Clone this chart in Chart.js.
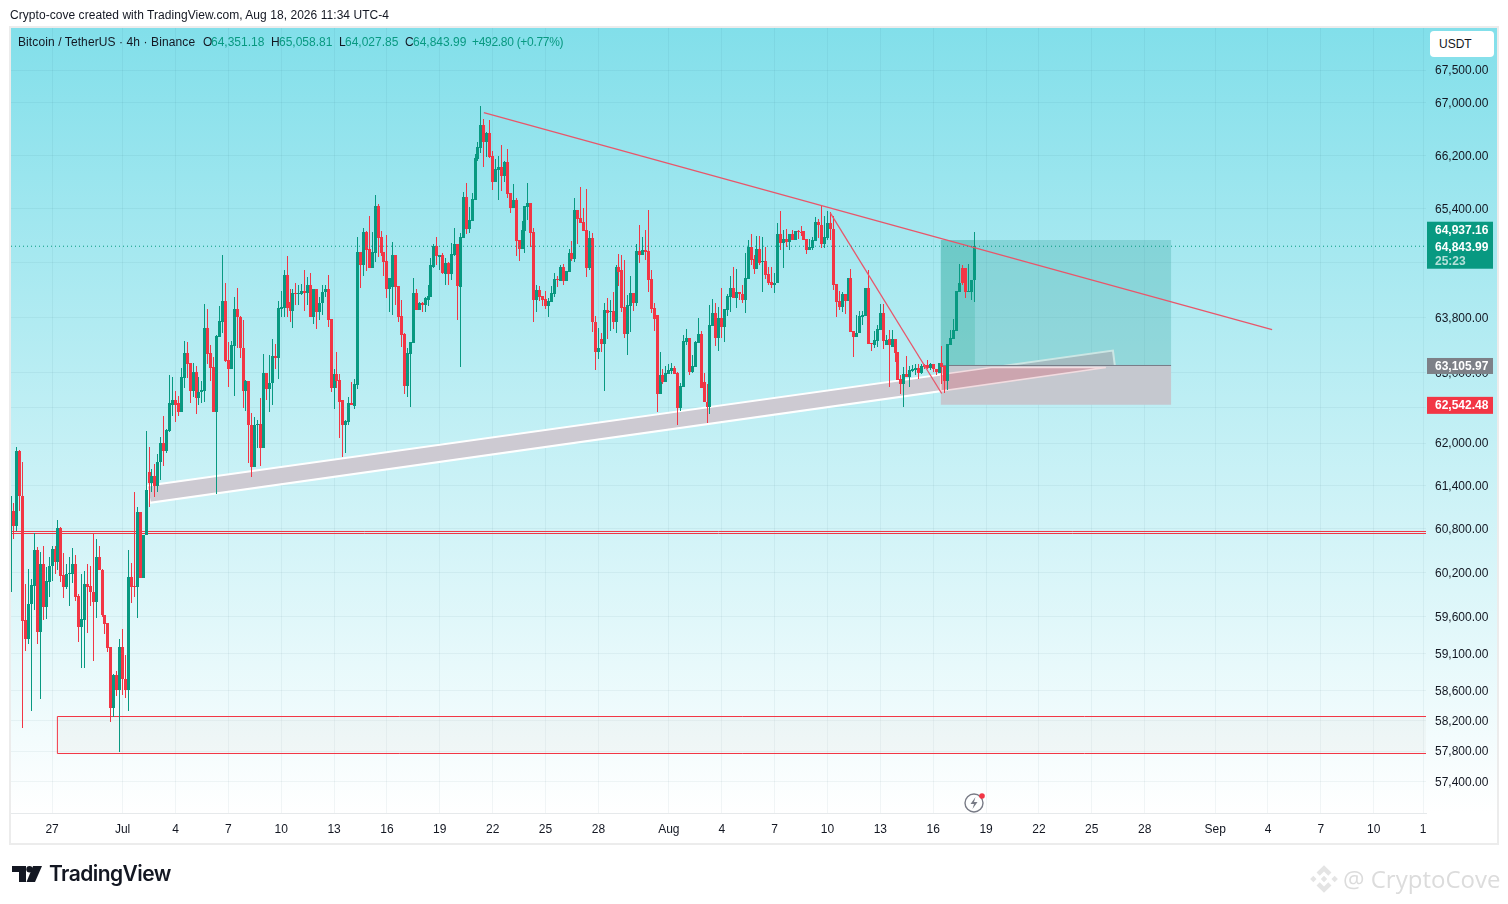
<!DOCTYPE html>
<html>
<head>
<meta charset="utf-8">
<title>BTCUSDT 4h</title>
<script src="https://cdn.jsdelivr.net/npm/chart.js@4"></script>
<style>
    html, body { margin: 0; padding: 0; background: #fff; }
    #page { position: relative; width: 1508px; height: 904px; overflow: hidden; font-family: "Liberation Sans", sans-serif; font-size: 12px; color: #131722; }
    #frame { position: absolute; left: 9px; top: 26px; width: 1486px; height: 815px; border: 2px solid #ececec; }
    #pane { position: absolute; left: 11px; top: 28px; width: 1486px; height: 785px; background: linear-gradient(180deg, #82dfea 0%, #ffffff 100%); }
    canvas { position: absolute; left: 0; top: 0; }
    .txt { position: absolute; white-space: nowrap; line-height: 14px; }
    .up { color: #089981; }
    #unit { position: absolute; left: 1430px; top: 31px; width: 55px; height: 26px; padding-left: 9px; line-height: 27px; background: #fff; border-radius: 4px; }
    #brand { position: absolute; left: 49px; top: 860px; font: 600 21px/28px Inter, sans-serif; color: #131722; letter-spacing: -0.55px; }
    #mark { position: absolute; left: 1343px; top: 862px; font: 24px/34px "Open Sans", sans-serif; color: #dcdcdc; white-space: nowrap; }
    svg { position: absolute; }
</style>
</head>
<body>
<div id="page">
    <div id="frame"></div>
    <div id="pane"></div>
    <canvas id="chart" width="1508" height="904"></canvas>

    <div class="txt" style="left:10px;top:8px;letter-spacing:0.05px">Crypto-cove created with TradingView.com, Aug 18, 2026 11:34 UTC-4</div>
    <div class="txt" style="left:18px;top:35px;letter-spacing:0.1px">Bitcoin / TetherUS · 4h · Binance</div>
    <div class="txt" style="left:203px;top:35px">O</div><div class="txt up" style="left:211px;top:35px">64,351.18</div>
    <div class="txt" style="left:271px;top:35px">H</div><div class="txt up" style="left:279px;top:35px">65,058.81</div>
    <div class="txt" style="left:339px;top:35px">L</div><div class="txt up" style="left:345px;top:35px">64,027.85</div>
    <div class="txt" style="left:405px;top:35px">C</div><div class="txt up" style="left:413px;top:35px">64,843.99</div>
    <div class="txt up" style="left:472px;top:35px;letter-spacing:-0.3px">+492.80 (+0.77%)</div>
    <div id="unit">USDT</div>

    <svg style="left:964px;top:792px" width="24" height="22" viewBox="0 0 24 22">
        <circle cx="10" cy="11" r="9" fill="none" stroke="#787b86" stroke-width="1.4"/>
        <path d="M11.5 5 L6.5 12 H10 L8.5 17 L13.5 10 H10 Z" fill="#787b86"/>
        <circle cx="18" cy="4" r="2.8" fill="#f23645"/>
    </svg>

    <svg style="left:12px;top:866px" width="32" height="16" viewBox="0 0 32 16">
        <path d="M0 0 H14 V16 H7 V6 H0 Z" fill="#131722"/>
        <circle cx="17.5" cy="3.2" r="3.2" fill="#131722"/>
        <path d="M21 0 H30 L23 16 H14.5 Z" fill="#131722"/>
    </svg>
    <div id="brand">TradingView</div>

    <svg style="left:1308px;top:863px" width="32" height="32" viewBox="0 0 30 30">
        <path d="M15 2 L22 9 L19 12 L15 8 L11 12 L8 9 Z M5 12 L8 15 L5 18 L2 15 Z M25 12 L28 15 L25 18 L22 15 Z M15 12 L18 15 L15 18 L12 15 Z M15 28 L8 21 L11 18 L15 22 L19 18 L22 21 Z" fill="#e4e4e4"/>
    </svg>
    <div id="mark">@ CryptoCove</div>
</div>

<script>
// Candles, one row of ten per line, index 0 = Jun 25 00:00, one bar per 4h
var opens = [
    60850,61051,60842,61888,61260,59547,59293,59772,60015,60513,
    59391,60309,59726,60068,60286,60527,60340,60814,60158,59995,
    60177,60181,60322,59872,59458,59547,60036,60008,59931,59794,
    60418,60240,59613,59507,59186,58363,58812,58603,59186,58755,
    58603,60131,60008,59995,61037,60122,60720,61595,61442,61540,
    61400,61735,62000,61888,62173,62547,62605,62562,62446,62920,
    63286,63139,62734,63008,62634,62720,62734,63653,63281,63080,
    62446,63521,63727,64039,63183,63051,63389,63919,63800,63354,
    62734,62878,62259,61665,62259,62274,61930,62994,62763,62850,
    63242,63212,63919,63934,64426,64024,63889,64158,64143,64143,
    64188,64158,64277,63800,64217,63874,64009,64173,64217,63771,
    62778,62979,62893,62605,62259,62302,62562,62533,62821,64754,
    64560,65052,64799,64530,64739,65440,64978,64754,64620,64217,
    64247,64710,64262,63815,63565,62806,63271,63433,64158,63904,
    64009,63979,64053,64098,64545,64844,64680,64710,64441,64590,
    64441,64710,64874,64246,64971,65578,65104,65222,65533,66141,
    66310,66667,66403,66542,66185,65800,65978,66022,65889,66096,
    65637,65415,65533,64941,64808,65074,65430,65489,65060,64054,
    64202,64113,64069,63963,64024,64143,64365,64335,64542,64335,
    64468,64749,64661,65385,65267,65207,65089,64527,64971,63741,
    63300,63491,63418,63906,63877,63892,63727,64542,64490,63948,
    63555,63963,64153,64006,64769,64711,64784,64769,64358,63933,
    63830,62691,62965,62864,62979,63022,63066,62994,62504,62792,
    63440,63498,63008,63080,63426,63555,62864,62590,62518,63670,
    63860,63498,63786,63656,63904,64094,64226,64080,64168,64138,
    64050,64358,64828,64651,64505,64798,64608,64622,64432,64314,
    64270,64300,65019,64887,64945,64901,65019,64931,65063,65050,
    65063,64945,64784,64813,64916,65209,65165,64872,64960,65195,
    65102,64285,64036,63948,64138,64036,64373,63598,63512,63570,
    63805,63815,64226,63426,63397,63454,63613,63860,63397,63483,
    63368,63483,63296,62907,62835,62979,62936,63022,63037,63066,
    62994,63109,63109,63066,63123,63051,62994,63138,63094,62878,
    63397,63483,63598,64168,64520,64520,64168,64168,64351
];
var highs = [
    61260,61153,61944,61902,61735,60045,60250,60113,60750,60554,
    60486,60568,60272,60409,60568,60568,60925,60828,60463,60318,
    60409,60532,60441,59908,60181,60213,60318,60295,60750,60664,
    60568,60250,59613,59507,59186,58826,58866,59293,59435,59079,
    60513,60336,61316,61107,61037,60720,62167,61944,61633,61702,
    61842,62086,62389,62200,62965,62936,62734,62662,63066,63462,
    63447,63139,63139,63094,62936,62878,63994,63918,63403,63232,
    63550,63964,64710,64307,63447,63462,64098,64232,63815,63756,
    62893,62878,62432,62374,62331,62634,63271,62994,63256,63492,
    63418,64039,64188,64500,64695,64217,64217,64307,64277,64292,
    64500,64396,64456,64217,64217,64098,64277,64277,64426,63771,
    63051,63300,62979,62605,62331,62648,62864,62907,64983,64754,
    65112,65067,65291,65052,65604,65470,65067,64754,65008,64381,
    64903,64710,64262,64053,63580,63359,63447,64381,64217,64024,
    64024,64098,64277,64665,64874,64978,64710,64739,64665,64605,
    64888,65112,64874,65045,65652,65785,65430,65637,66217,66403,
    66946,66744,66558,66729,66263,66141,66185,66356,66111,66294,
    65637,65770,65563,64941,65222,65445,65785,65489,65119,64276,
    64261,64113,64187,64084,64261,64453,64409,64572,64587,64483,
    64808,64927,65563,65385,65726,65415,65696,65074,65045,63815,
    63648,63580,64010,64084,64054,64172,64572,64734,64711,64637,
    64124,64402,64153,64872,65165,64975,65077,65385,64490,64006,
    63830,63296,63051,63094,63123,63138,63094,63008,62850,63541,
    63627,63498,63253,63454,63786,63598,62994,62835,63977,64065,
    64006,63948,64226,63918,64138,64402,64534,64505,64168,64270,
    64740,64930,65018,64711,64989,64989,64975,64828,64534,64534,
    64446,65194,65371,65077,65092,65019,65077,65063,65085,65136,
    65063,64945,64945,64975,65283,65253,65444,65297,65371,65346,
    65297,64285,64182,64168,64138,64373,64505,63598,63830,63889,
    63889,64226,64490,63426,63598,63685,63992,63992,63540,63613,
    63613,63483,63296,62965,63080,63238,63094,63109,63123,63123,
    63123,63130,63181,63138,63123,63060,63138,63382,63094,63411,
    63613,63771,64182,64578,64564,64520,64578,64344,65058
];
var lows = [
    59930,60664,60773,61051,58109,59133,59230,58332,59681,59226,
    58492,59547,59560,59863,60077,60181,60240,60068,59849,59976,
    59735,60054,59804,59257,58897,58897,59378,59740,59004,59578,
    60227,59591,59355,59124,58189,58243,58523,57789,58536,58501,
    58323,59781,59863,59578,60122,60122,60720,61098,61316,61237,
    61316,61484,61684,61865,62158,62389,62302,62389,62446,62778,
    62920,62576,62648,62418,62547,62576,62590,63124,62878,62446,
    61289,63521,63575,63154,62792,63051,62662,63359,63212,62504,
    62461,61721,61526,61665,61930,61679,61930,62605,62446,62547,
    63051,62907,63800,63800,63800,63727,63653,63979,63979,64128,
    63889,63979,63800,63700,63639,63756,63830,64100,63668,62720,
    62490,62778,62072,61805,61860,62259,62547,62490,62763,64232,
    64411,64486,64530,64530,64605,64680,64695,64411,64083,63875,
    63830,63979,63727,63374,62691,62648,62518,63433,63904,63904,
    63874,63874,63964,64098,64530,64560,64500,64441,64277,64277,
    64352,64700,63756,63080,64971,65030,65045,65222,65533,66111,
    66232,66022,66170,66156,65681,65800,65533,65666,65800,65563,
    65341,65415,64705,64631,64808,64749,65237,64838,63727,63877,
    64039,63973,63929,63800,64024,64098,64246,64335,64276,64335,
    64468,64631,64616,64882,65193,65074,64394,64498,63594,63036,
    63197,63300,62734,63491,63609,63638,63580,64261,63874,63498,
    63253,63584,63889,63963,64593,64711,64637,64168,63860,63598,
    62446,62691,62835,62864,62979,62979,62979,62259,62461,62792,
    63397,62965,62994,63080,63426,62778,62590,62288,62418,63670,
    63382,63310,63498,63440,63815,63874,64080,63933,64050,64006,
    63860,64358,64564,64432,64505,64564,64168,64358,64270,64226,
    64153,64300,64784,64520,64828,64784,64931,64931,64945,65000,
    64931,64725,64784,64784,64916,64960,64813,64813,64931,64931,
    64207,63800,63904,63880,63855,64036,63584,63224,63512,63570,
    63685,63815,63411,63310,63354,63368,63613,63339,63397,62792,
    63368,63157,62893,62691,62518,62936,62792,63010,62965,62907,
    62979,63060,63051,63037,63008,62965,62994,62835,62706,62749,
    63397,63483,63598,64168,64270,64080,64168,64050,64027
];
var closes = [
    61040,60842,61888,61260,59538,59293,59772,60022,60513,59391,
    60309,59726,60077,60295,60527,60340,60814,60149,59995,60181,
    60195,60322,59863,59458,59560,60036,59995,59931,59794,60418,
    60240,59613,59502,59177,58363,58812,58603,59186,58755,58603,
    60131,60004,60000,61037,60122,60720,61339,61442,61540,61400,
    61735,62000,61888,62187,62562,62605,62547,62446,62936,63286,
    63129,62734,63008,62634,62720,62749,63653,63271,63070,62446,
    63536,63742,64039,63168,63051,63403,63919,63800,63354,62734,
    62878,62259,61665,62259,62274,61930,62994,62763,62850,63242,
    63212,63934,63949,64426,63934,63889,64158,64143,64153,64188,
    64158,64277,63800,64217,63874,64009,64173,64217,63756,62778,
    62979,62878,62590,62259,62317,62562,62547,62835,64754,64560,
    65052,64784,64530,64754,65440,64963,64739,64605,64217,64381,
    64710,64247,63800,63550,62806,63286,63447,64158,63904,64009,
    63979,64083,64113,64560,64844,64695,64710,64456,64590,64441,
    64724,64874,64262,64986,65578,65104,65237,65548,66156,66325,
    66667,66403,66542,66170,65800,65993,66022,65889,66096,65622,
    65415,65533,64927,64808,65089,65445,65489,65045,64054,64202,
    64098,64054,63963,64039,64157,64365,64350,64542,64335,64483,
    64749,64661,65385,65252,65193,65074,64527,64971,63727,63300,
    63359,63418,63906,63862,63892,63727,64542,64468,63933,63555,
    63977,64153,64006,64769,64711,64784,64755,64344,63918,63771,
    62691,62965,62864,62994,63037,63066,62979,62504,62806,63454,
    63498,63008,63094,63440,63555,62778,62590,62518,63685,63860,
    63498,63786,63656,63918,64109,64226,64080,64168,64138,64050,
    64373,64828,64637,64505,64798,64593,64622,64417,64300,64270,
    64300,65018,64887,64945,64901,65019,64931,65063,65050,65040,
    64931,64784,64828,64931,65209,65151,64872,64975,65195,65092,
    64270,64021,63948,64138,64036,64373,63584,63512,63570,63815,
    63830,64226,63411,63411,63469,63627,63860,63454,63469,63397,
    63483,63282,62893,62835,62979,62936,63037,63051,63066,62994,
    63094,63085,63066,63123,63051,63008,63138,63080,62878,63411,
    63498,63613,64182,64300,64300,64168,64182,64344,64843.99
];

// Price axis ticks; 62,500 and 64,600 sit behind the price tags
var priceTicks = [57400,57800,58200,58600,59100,59600,60200,60800,61400,62000,62500,63000,63800,64600,65400,66200,67000,67500];

// Time axis: days counted from Jul 1, and what is printed there
var tickDays = [-4,0,3,6,9,12,15,18,21,24,27,31,34,37,40,43,46,49,52,55,58,62,65,68,71,73.8];
var tickNames = ['27','Jul','4','7','10','13','16','19','22','25','28','Aug','4','7','10','13','16','19','22','25','28','Sep','4','7','10','1'];

// Drawings, in bar index and price
var closePrice = 64843.99;
var highTag = 64937.16;
var entryPrice = 63105.97;
var stopPrice = 62542.48;
var zoneStart = 316.6, zoneEnd = 395, zoneBarsEnd = 328.2;
var bandBars = [46.3, 375.2, 375.9, 47.3];
var bandPrices = [61400, 63321, 63091, 61163];
var bandOverBars = [316.6, 333.7, 372.8, 316.6];
var bandOverPrices = [62976, 63077, 63077, 62740];
var fallingBars = [161, 429.4];
var fallingPrices = [66849, 63625];
var steepBars = [278.9, 316.9];
var steepPrices = [65343, 62704];
var levelPrices = [60764, 60736];
var supportBars = [15.8, 490];
var supportPrices = [58256, 57767];

var UP = '#089981';
var DOWN = '#f23645';
var LINE_RED = '#e8566a';
var GRID = 'rgba(0, 60, 70, 0.05)';
var FONT = '"Liberation Sans", sans-serif';
var X_MAX = 481.8;
var BAR_START = 38;   // Jul 1
var BARS_PER_DAY = 6;

/**
 * Closed outline through the given bars and prices
 */
function outline(bars, prices) {
    var pts = [];
    for (var i = 0; i < bars.length; i++) {
        pts.push({x: bars[i], y: prices[i]});
    }
    pts.push({x: bars[0], y: prices[0]});
    return pts;
}

function box(x1, x2, p1, p2) {
    return outline([x1, x2, x2, x1], [p1, p1, p2, p2]);
}

function shape(pts, fill, stroke, width, order) {
    return {
        type: 'line', data: pts, order: order, fill: 'shape',
        backgroundColor: fill, borderColor: stroke, borderWidth: width,
        pointRadius: 0, tension: 0
    };
}

function segment(bars, prices, color, width, order, dash) {
    return {
        type: 'line', data: outline(bars, prices).slice(0, bars.length), order: order, fill: false,
        borderColor: color, borderWidth: width, borderDash: dash || [],
        pointRadius: 0, tension: 0
    };
}

var wicks = [], bodies = [], colors = [];
for (var i = 0; i < opens.length; i++) {
    wicks.push({x: i, y: [lows[i], highs[i]]});
    bodies.push({x: i, y: [Math.min(opens[i], closes[i]), Math.max(opens[i], closes[i])]});
    colors.push(closes[i] >= opens[i] ? UP : DOWN);
}

/**
 * Keep candles on whole pixels so wicks stay one pixel wide
 */
var snapCandles = {
    id: 'snapCandles',
    beforeDatasetsDraw: function(chart) {
        chart.getSortedVisibleDatasetMetas().forEach(function(meta) {
            if (meta.type !== 'bar') return;
            meta.data.forEach(function(el) {
                el.x = Math.floor(el.x) + 0.5;
                el.y = Math.round(el.y);
                el.base = Math.round(el.base);
                if (el.base === el.y) el.base = el.y + 1;
            });
        });
    }
};

/**
 * Price tags on top of the price axis
 */
var priceTags = {
    id: 'priceTags',
    afterDraw: function(chart) {
        var ctx = chart.ctx;
        var y = chart.scales.y;
        var left = 1427, width = 66, textX = 1435;
        var closeY = y.getPixelForValue(closePrice);
        var entryY = y.getPixelForValue(entryPrice);
        var stopY = y.getPixelForValue(stopPrice);

        ctx.save();
        ctx.textBaseline = 'middle';
        ctx.textAlign = 'left';
        ctx.font = 'bold 12px ' + FONT;

        ctx.fillStyle = UP;
        ctx.fillRect(left, closeY - 24.5, width, 47);
        ctx.fillStyle = '#fff';
        ctx.fillText(highTag.toLocaleString('en-US', {minimumFractionDigits: 2}), textX, closeY - 16);
        ctx.fillText(closePrice.toLocaleString('en-US', {minimumFractionDigits: 2}), textX, closeY + 1);
        ctx.fillStyle = 'rgba(255, 255, 255, 0.7)';
        ctx.fillText('25:23', textX, closeY + 15);

        ctx.fillStyle = '#7d8087';
        ctx.fillRect(left, entryY - 7.5, width, 16);
        ctx.fillStyle = '#fff';
        ctx.fillText(entryPrice.toLocaleString('en-US', {minimumFractionDigits: 2}), textX, entryY + 1);

        ctx.fillStyle = DOWN;
        ctx.fillRect(left, stopY - 8, width, 17);
        ctx.fillStyle = '#fff';
        ctx.fillText(stopPrice.toLocaleString('en-US', {minimumFractionDigits: 2}), textX, stopY + 1);
        ctx.restore();
    }
};

new Chart(document.getElementById('chart'), {
    type: 'bar',
    plugins: [snapCandles, priceTags],
    data: {
        datasets: [
            shape(box(supportBars[0], supportBars[1], supportPrices[0], supportPrices[1]), 'rgba(205, 205, 195, 0.12)', DOWN, 1, 90),
            segment([0, X_MAX], [levelPrices[0], levelPrices[0]], DOWN, 1, 89),
            segment([0, X_MAX], [levelPrices[1], levelPrices[1]], DOWN, 1, 88),
            shape(outline(bandBars, bandPrices), '#cdcad2', '#ffffff', 2, 80),
            shape(box(zoneStart, zoneEnd, highTag, entryPrice), 'rgba(20, 140, 130, 0.22)', 'transparent', 0, 70),
            shape(box(zoneStart, zoneBarsEnd, highTag, entryPrice), 'rgba(8, 153, 129, 0.18)', 'transparent', 0, 69),
            shape(box(zoneStart, zoneEnd, entryPrice, stopPrice), '#c5c8cf', 'transparent', 0, 68),
            shape(outline(bandOverBars, bandOverPrices), '#cca5af', '#f2dce0', 1.5, 67),
            segment([zoneStart, zoneEnd], [entryPrice, entryPrice], '#787b86', 1, 66),
            {data: wicks, backgroundColor: colors, barThickness: 1, grouped: false, order: 20, borderWidth: 0, inflateAmount: 0},
            {data: bodies, backgroundColor: colors, barThickness: 3, grouped: false, order: 19, borderWidth: 0, inflateAmount: 0},
            segment(fallingBars, fallingPrices, LINE_RED, 1.3, 5),
            segment(steepBars, steepPrices, LINE_RED, 1.3, 4),
            segment([0, X_MAX], [closePrice, closePrice], UP, 1, 3, [1, 3])
        ]
    },
    options: {
        responsive: false,
        animation: false,
        layout: {padding: {left: 11, top: 28, right: 11, bottom: 61}},
        plugins: {legend: {display: false}, tooltip: {enabled: false}},
        scales: {
            x: {
                type: 'linear',
                min: 0,
                max: X_MAX,
                offset: false,
                grid: {color: GRID, offset: false, drawTicks: false},
                border: {color: '#e6e9eb'},
                ticks: {
                    autoSkip: false,
                    maxRotation: 0,
                    padding: 9,
                    color: '#131722',
                    font: {family: FONT, size: 12},
                    callback: function(value, index) {
                        return tickNames[index];
                    }
                },
                afterBuildTicks: function(scale) {
                    scale.ticks = tickDays.map(function(d) {
                        return {value: BAR_START + d * BARS_PER_DAY};
                    });
                },
                afterFit: function(scale) {
                    scale.height = 30;
                }
            },
            y: {
                type: 'logarithmic',
                position: 'right',
                min: 56989.5,
                max: 68149,
                grid: {color: GRID, drawTicks: false},
                border: {display: false},
                ticks: {
                    autoSkip: false,
                    padding: 9,
                    labelOffset: 1,
                    color: '#131722',
                    font: {family: FONT, size: 12},
                    callback: function(value) {
                        return Number(value).toLocaleString('en-US', {minimumFractionDigits: 2});
                    }
                },
                afterBuildTicks: function(scale) {
                    scale.ticks = priceTicks.map(function(v) {
                        return {value: v};
                    });
                },
                afterFit: function(scale) {
                    scale.width = 71;
                }
            }
        }
    }
});
</script>
</body>
</html>
